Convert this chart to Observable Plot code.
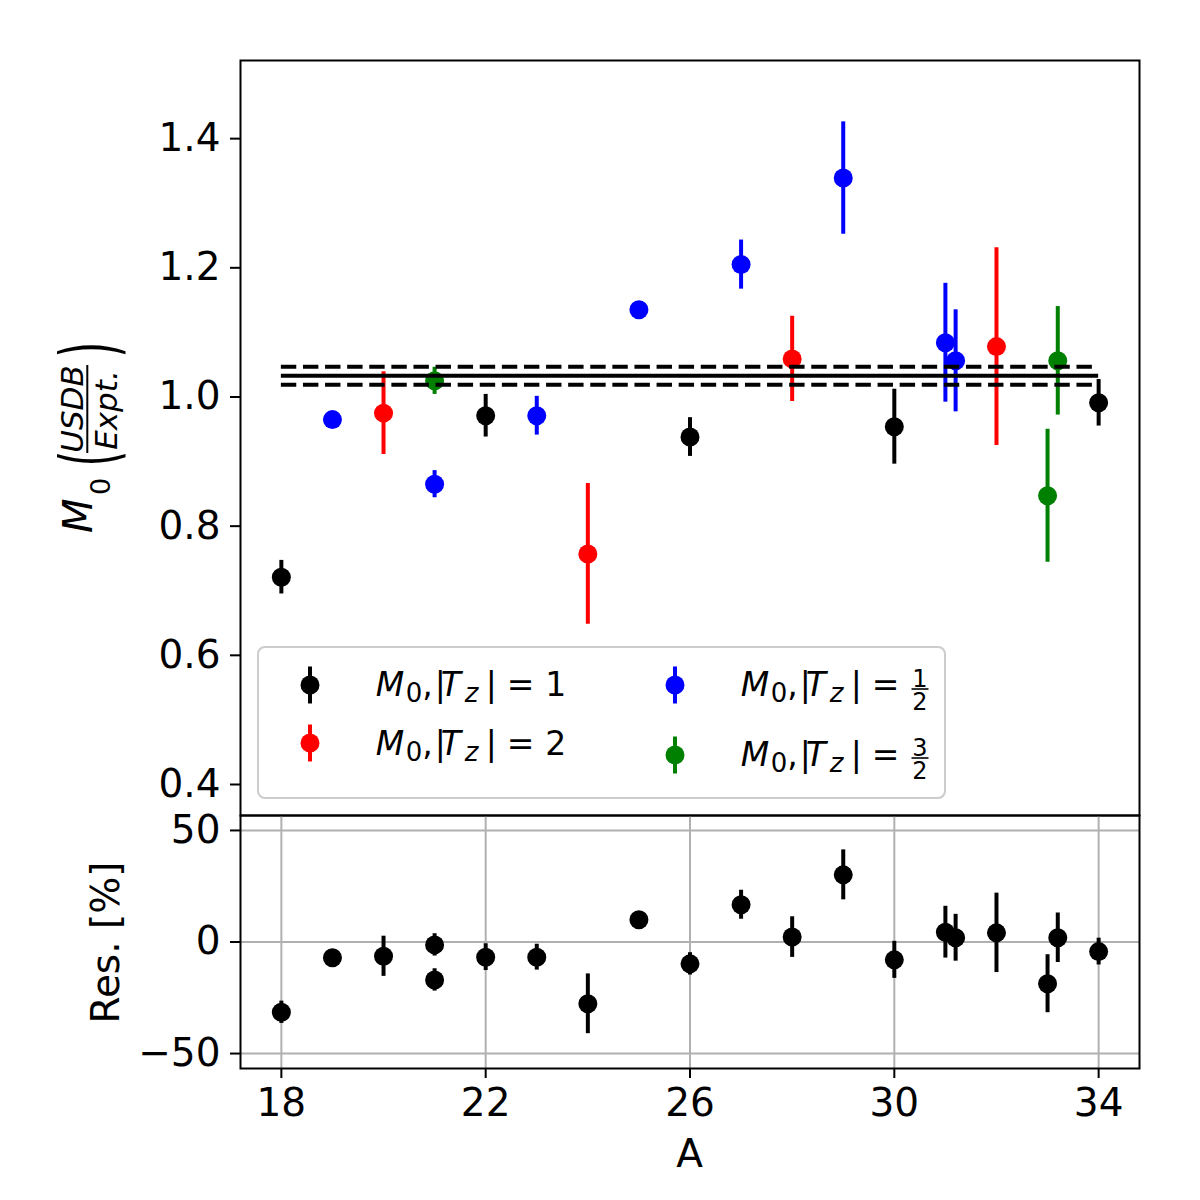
<!DOCTYPE html>
<html><head><meta charset="utf-8">
<script src="https://cdn.jsdelivr.net/npm/d3@7"></script>
<script src="https://cdn.jsdelivr.net/npm/@observablehq/plot@0.6"></script>
<style>
html,body{margin:0;padding:0;background:#fff;overflow:hidden;}
#chart{position:relative;width:1200px;height:1200px;background:#fff;font-family:"DejaVu Sans",sans-serif;}
#chart svg{position:absolute;left:0;}
</style></head><body><div id="chart"></div>
<script>
// ---- data ----
// |Tz| = 1 (black)
const A_tz1 = [18, 22, 26, 30, 34];
const M_tz1 = [0.721, 0.971, 0.938, 0.954, 0.991];
const E_tz1 = [0.026, 0.033, 0.030, 0.058, 0.036];
// |Tz| = 2 (red)
const A_tz2 = [20, 24, 28, 32];
const M_tz2 = [0.975, 0.757, 1.059, 1.078];
const E_tz2 = [0.064, 0.109, 0.066, 0.153];
// |Tz| = 1/2 (blue)
const A_tzh = [19, 21, 23, 25, 27, 29, 31, 31.2];
const M_tzh = [0.965, 0.865, 0.971, 1.135, 1.205, 1.339, 1.084, 1.056];
const E_tzh = [0.004, 0.021, 0.030, 0.004, 0.038, 0.087, 0.092, 0.079];
// |Tz| = 3/2 (green)
const A_tz32 = [21, 33, 33.2];
const M_tz32 = [1.025, 0.847, 1.056];
const E_tz32 = [0.021, 0.103, 0.084];
// average and its band
const meanLine = [1.033];
const bandLines = [1.019, 1.047];
const lineSpan = [18, 34];
// residuals [%]
const A_res = [18, 19, 20, 21, 21, 22, 23, 24, 25, 26, 27, 28, 29, 30, 31, 31.2, 32, 33, 33.2, 34];
const R_res = [-31.5, -7.1, -6.4, -1.3, -17.0, -6.8, -6.8, -27.7, 10.0, -9.8, 16.7, 2.2, 30.1, -8.0, 4.4, 1.9, 4.1, -18.7, 1.9, -4.3];
const E_res = [5.0, 0.5, 9.0, 5.0, 5.0, 6.0, 5.8, 13.4, 0.5, 5.0, 6.5, 9.1, 11.2, 8.3, 11.6, 10.5, 17.8, 13.0, 11.1, 6.0];
// ticks
const topTicks = [0.4, 0.6, 0.8, 1.0, 1.2, 1.4];
const resTicks = [-50, 0, 50];
const xTicks = [18, 22, 26, 30, 34];
const xDomain = [17.2, 34.8];
const topDomain = [0.352, 1.521];
const resDomain = [-56.7, 56.7];

const series = [
  {A: A_tz1, M: M_tz1, E: E_tz1, color: "#000000"},
  {A: A_tz2, M: M_tz2, E: E_tz2, color: "#ff0000"},
  {A: A_tzh, M: M_tzh, E: E_tzh, color: "#0000ff"},
  {A: A_tz32, M: M_tz32, E: E_tz32, color: "#008000"}
];
const rows = s => s.A.map((a, i) => ({A: a, M: s.M[i], E: s.E[i]}));
const resRows = A_res.map((a, i) => ({A: a, R: R_res[i], E: E_res[i]}));

const baseStyle = {background: "transparent", overflow: "visible", fontSize: "39px", fontFamily: "DejaVu Sans", color: "black"};
const chart = document.getElementById("chart");

// ---- top panel ----
const topPlot = Plot.plot({
  width: 1200, height: 817,
  marginTop: 60, marginBottom: 2, marginLeft: 240, marginRight: 61,
  style: baseStyle,
  x: {domain: xDomain, axis: null},
  y: {domain: topDomain},
  marks: [
    ...series.flatMap(s => [
      Plot.ruleX(rows(s), {x: "A", y1: d => d.M - d.E, y2: d => d.M + d.E, stroke: s.color, strokeWidth: 4}),
      Plot.dot(rows(s), {x: "A", y: "M", r: 9.5, fill: s.color, stroke: "none"})
    ]),
    Plot.ruleY(meanLine, {x1: lineSpan[0], x2: lineSpan[1], stroke: "black", strokeWidth: 4}),
    Plot.ruleY(bandLines, {x1: lineSpan[0], x2: lineSpan[1], stroke: "black", strokeWidth: 4, strokeDasharray: "15.4,6.7"}),
    Plot.axisY(topTicks, {tickSize: 10, tickPadding: 10, strokeWidth: 2, label: null, tickFormat: d => d.toFixed(1)}),
    Plot.frame({stroke: "black", strokeWidth: 2})
  ]
});
topPlot.style.top = "0px";
chart.appendChild(topPlot);

// ---- residual panel ----
const botPlot = Plot.plot({
  width: 1200, height: 387,
  marginTop: 2, marginBottom: 132, marginLeft: 240, marginRight: 61,
  style: baseStyle,
  x: {domain: xDomain},
  y: {domain: resDomain},
  marks: [
    Plot.gridX(xTicks, {stroke: "#b0b0b0", strokeOpacity: 1, strokeWidth: 2}),
    Plot.gridY(resTicks, {stroke: "#b0b0b0", strokeOpacity: 1, strokeWidth: 2}),
    Plot.ruleX(resRows, {x: "A", y1: d => d.R - d.E, y2: d => d.R + d.E, stroke: "black", strokeWidth: 4}),
    Plot.dot(resRows, {x: "A", y: "R", r: 9.5, fill: "black", stroke: "none"}),
    Plot.axisX(xTicks, {tickSize: 10, tickPadding: 10, strokeWidth: 2, label: null}),
    Plot.axisY(resTicks, {tickSize: 10, tickPadding: 10, strokeWidth: 2, label: null}),
    Plot.frame({stroke: "black", strokeWidth: 2})
  ]
});
botPlot.style.top = "813px";
chart.appendChild(botPlot);

// ---- labels & legend overlay ----
function entry(m0, base, value) {
  return `<text y="${base}" font-size="33" font-family="DejaVu Sans">` +
    `<tspan x="${m0 - 1}" font-style="italic">M</tspan>` +
    `<tspan x="${m0 + 29}" y="${base + 5.7}" font-size="26">0</tspan>` +
    `<tspan x="${m0 + 45.5}" y="${base}">,</tspan>` +
    `<tspan x="${m0 + 58}">|</tspan>` +
    `<tspan x="${m0 + 64}" font-style="italic">T</tspan>` +
    `<tspan x="${m0 + 88}" y="${base + 5.7}" font-size="26" font-style="italic">z</tspan>` +
    `<tspan x="${m0 + 109}" y="${base}">|</tspan>` +
    `<tspan x="${m0 + 130}">=</tspan>` +
    (value ? `<tspan x="${m0 + 168.5}">${value}</tspan>` : "") +
    `</text>`;
}
function frac(cx, bar, num, den) {
  return `<text x="${cx}" y="${bar - 2.3}" font-size="24" text-anchor="middle">${num}</text>` +
    `<line x1="${cx - 8.5}" x2="${cx + 8.5}" y1="${bar}" y2="${bar}" stroke="black" stroke-width="1.6"/>` +
    `<text x="${cx}" y="${bar + 21}" font-size="24" text-anchor="middle">${den}</text>`;
}
function sym(x, y, c) {
  return `<line x1="${x}" x2="${x}" y1="${y - 18.5}" y2="${y + 18.5}" stroke="${c}" stroke-width="4"/>` +
    `<circle cx="${x}" cy="${y}" r="9.5" fill="${c}"/>`;
}

const overlay = `
<svg width="1200" height="1200" viewBox="0 0 1200 1200" style="top:0;pointer-events:none" font-family="DejaVu Sans" fill="black">
  <g transform="translate(123,533) rotate(-90)">
    <text x="0" y="-31" font-size="40" font-style="italic">M</text>
    <text x="38" y="-13" font-size="27">0</text>
    <text transform="translate(66.5,-8) scale(1,1.9)" font-size="40">(</text>
    <text x="124" y="-40" font-size="31" font-style="italic" text-anchor="middle">USDB</text>
    <line x1="80" x2="168" y1="-35.7" y2="-35.7" stroke="black" stroke-width="2"/>
    <text x="123" y="-6.5" font-size="31" font-style="italic" text-anchor="middle">Expt.</text>
    <text transform="translate(175.5,-8) scale(1,1.9)" font-size="40">)</text>
  </g>
  <text transform="translate(119,942.5) rotate(-90)" font-size="39" text-anchor="middle">Res. [%]</text>
  <text x="689.5" y="1167" font-size="39" text-anchor="middle">A</text>
  <rect x="258" y="647" width="687" height="151" rx="7" ry="7" fill="white" fill-opacity="0.8" stroke="#cccccc" stroke-width="2"/>
  ${sym(310, 685, "#000000")}
  ${sym(310, 743, "#ff0000")}
  ${sym(675, 685, "#0000ff")}
  ${sym(675, 755, "#008000")}
  ${entry(376.7, 696, "1")}
  ${entry(376.7, 755, "2")}
  ${entry(741.7, 696, "")}
  ${frac(920, 689, "1", "2")}
  ${entry(741.7, 766, "")}
  ${frac(920, 758, "3", "2")}
</svg>`;
chart.insertAdjacentHTML("beforeend", overlay);
</script></body></html>
